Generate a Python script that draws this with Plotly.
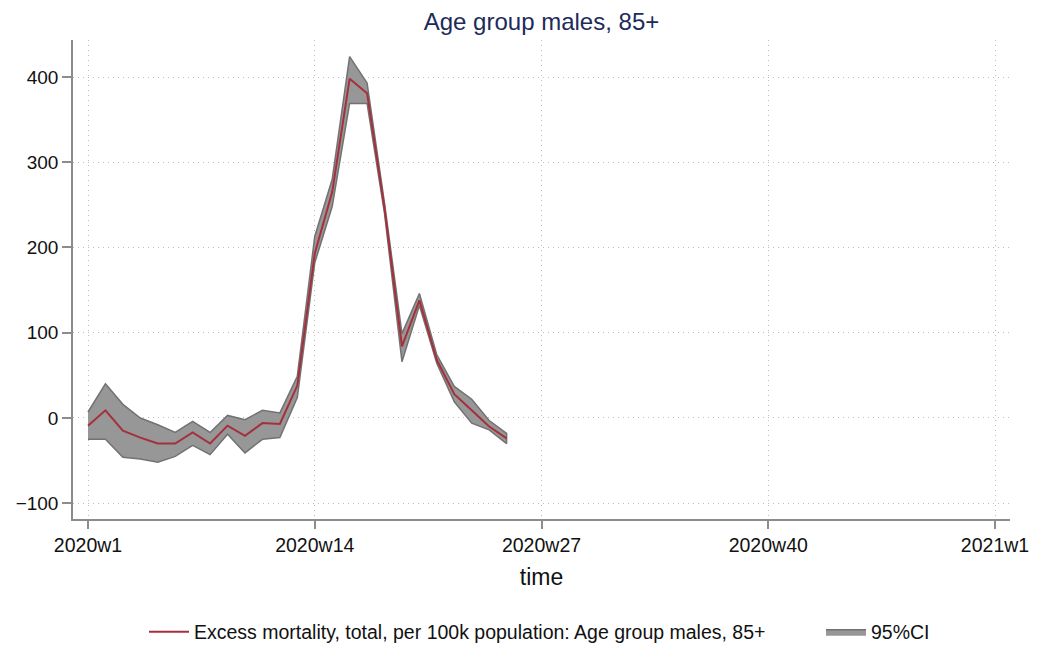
import plotly.graph_objects as go

# weekly index, 2020w1 = 0 (Stata %tw has 52 weeks per year)
weeks = list(range(1, 26))

excess = [-9, 9, -15, -23, -30, -30, -17, -30, -9, -21, -6, -7, 38,
          193, 265, 398, 381, 246, 84, 138, 68, 28, 9, -10, -24]
ci_upper = [7, 40, 16, 0, -8, -17, -4, -17, 3, -2, 9, 6, 49,
            213, 280, 424, 393, 252, 99, 146, 74, 37, 22, -3, -18]
ci_lower = [-25, -25, -46, -48, -52, -45, -32, -43, -19, -41, -25, -23, 24,
            182, 248, 369, 369, 240, 66, 132, 64, 19, -6, -14, -30]

tick_vals = [0, 13, 26, 39, 52]
tick_text = ["2020w1", "2020w14", "2020w27", "2020w40", "2021w1"]

x = [w - 1 for w in weeks]

# page has an 8px body margin, so the figure is a bit smaller than the window
W, H = 1030, 638

fig = go.Figure()

# 95% CI band as one closed polygon
fig.add_trace(go.Scatter(
    x=x + x[::-1],
    y=ci_upper + ci_lower[::-1],
    fill='toself',
    fillcolor='#979797',
    mode='lines',
    line=dict(color='#727272', width=1.5),
    name='95%CI',
    legend='legend2',
    hoverinfo='skip'
))

fig.add_trace(go.Scatter(
    x=x,
    y=excess,
    mode='lines',
    line=dict(color='#a5303c', width=2),
    name='Excess mortality, total, per 100k population: Age group males, 85+',
    legend='legend'
))

grid = dict(showgrid=True, gridcolor='#bdbdbd', griddash='1px,4px', gridwidth=1)

fig.update_layout(
    width=W, height=H,
    paper_bgcolor='white', plot_bgcolor='white',
    margin=dict(l=65, r=28, t=32, b=127),
    font=dict(family='Liberation Sans, Arial, sans-serif', size=19, color='#111111'),
    title=dict(text='Age group males, 85+', x=0.5, xref='paper', xanchor='center',
               y=1 - 14 / H, yanchor='middle',
               font=dict(size=24, color='#1c2b59')),
    showlegend=True,
    legend=dict(orientation='h', x=136 / W, xanchor='left', xref='container',
                y=14 / H, yanchor='middle', yref='container',
                font=dict(size=19.5), itemwidth=40, bgcolor='rgba(0,0,0,0)'),
    legend2=dict(orientation='h', x=813 / W, xanchor='left', xref='container',
                 y=14 / H, yanchor='middle', yref='container',
                 font=dict(size=19.5), itemwidth=40, bgcolor='rgba(0,0,0,0)'),
    xaxis=dict(
        range=[-0.86, 52.86], tickmode='array', tickvals=tick_vals, ticktext=tick_text,
        showline=True, linecolor='#8c8c8c', linewidth=1.5,
        ticks='outside', ticklen=8, tickcolor='#8c8c8c', tickwidth=1.5,
        zeroline=False, tickfont=dict(size=19.5), automargin=False,
        title=dict(text='time', font=dict(size=23), standoff=14),
        **grid
    ),
    yaxis=dict(
        range=[-118.5, 443.4], tickmode='array', tickvals=[-100, 0, 100, 200, 300, 400],
        showline=True, linecolor='#8c8c8c', linewidth=1.5,
        ticks='outside', ticklen=9, tickcolor='#8c8c8c', tickwidth=1.5,
        zeroline=False, tickfont=dict(size=19), automargin=False,
        **grid
    )
)

fig.write_html("out.html")
